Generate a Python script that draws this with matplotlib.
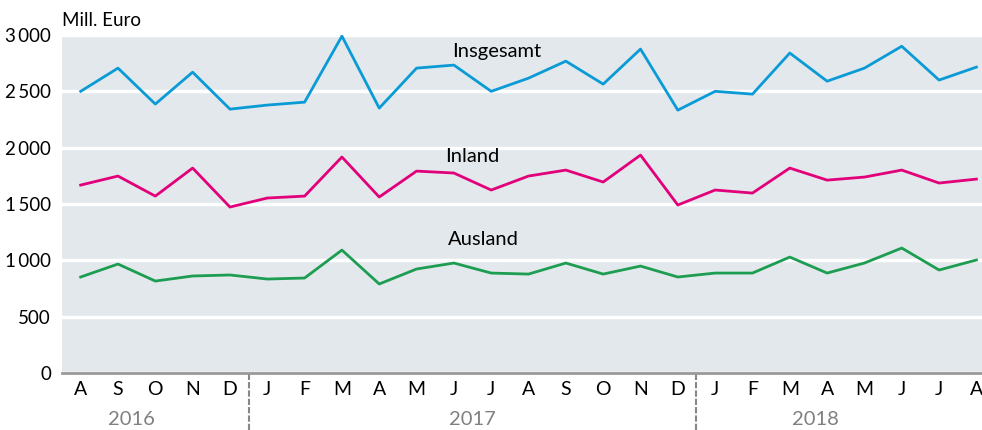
import matplotlib
matplotlib.use("Agg")
import matplotlib.pyplot as plt

plt.rcParams['font.family'] = ['Lato', 'DejaVu Sans']

months = ["A", "S", "O", "N", "D",
          "J", "F", "M", "A", "M", "J", "J", "A", "S", "O", "N", "D",
          "J", "F", "M", "A", "M", "J", "J", "A"]

insgesamt = [2500, 2706, 2387, 2670, 2342, 2378, 2404, 2990, 2351, 2706, 2733, 2500, 2617,
             2768, 2564, 2875, 2333, 2500, 2475, 2840, 2590, 2706, 2900, 2600, 2715]
inland = [1668, 1748, 1570, 1819, 1473, 1553, 1570, 1917, 1562, 1792, 1775, 1624, 1748,
          1801, 1695, 1934, 1491, 1624, 1597, 1819, 1712, 1739, 1801, 1686, 1721]
ausland = [852, 967, 816, 861, 870, 834, 843, 1091, 790, 923, 976, 887, 878,
           976, 878, 949, 852, 887, 887, 1029, 887, 976, 1109, 914, 1003]

years = ["2016", "2017", "2018"]
year_pos = [1.35, 10.5, 19.7]
year_breaks = [4.5, 16.5]

yticks = [0, 500, 1000, 1500, 2000, 2500, 3000]
ytick_labels = ["0", "500", "1\u2009000", "1\u2009500", "2\u2009000", "2\u2009500", "3\u2009000"]

fig = plt.figure(figsize=(9.82, 4.30), dpi=100)
ax = fig.add_axes([62 / 982, 1 - 373 / 430, 920 / 982, 338 / 430])
ax.set_facecolor("#e3e8ec")

x = list(range(len(months)))
ax.plot(x, insgesamt, color="#0a9bd7", lw=2)
ax.plot(x, inland, color="#e2007a", lw=2)
ax.plot(x, ausland, color="#1d9d52", lw=2)

ax.text(11.15, 2850, "Insgesamt", ha="center", va="center", fontsize=14.5)
ax.text(10.5, 1920, "Inland", ha="center", va="center", fontsize=14.5)
ax.text(10.8, 1185, "Ausland", ha="center", va="center", fontsize=14.5)

ax.set_xlim(-0.5, 24.15)
ax.set_ylim(0, 3000)
ax.set_yticks(yticks)
ax.set_yticklabels(ytick_labels, fontsize=13.5)
ax.yaxis.grid(True, color="white", lw=2.5)
ax.set_axisbelow(True)

ax.set_xticks(x)
ax.set_xticklabels(months, fontsize=14)
ax.tick_params(length=0, pad=6)
ax.tick_params(axis="y", pad=8)

for s in ["top", "right", "left"]:
    ax.spines[s].set_visible(False)
ax.spines["bottom"].set_color("#999999")
ax.spines["bottom"].set_linewidth(2)

low = -(430 - 373) / 338
for b in year_breaks:
    ax.axvline(b, ymin=low, ymax=0, color="#888888", lw=1.5, ls=(0, (3, 1)), clip_on=False)

for yr, p in zip(years, year_pos):
    ax.text(p, -415, yr, ha="center", va="center", fontsize=14.5, color="#808080")

fig.text(62 / 982, 1 - 20 / 430, "Mill. Euro", ha="left", va="center", fontsize=13.5)

fig.savefig("out.png", dpi=100)
